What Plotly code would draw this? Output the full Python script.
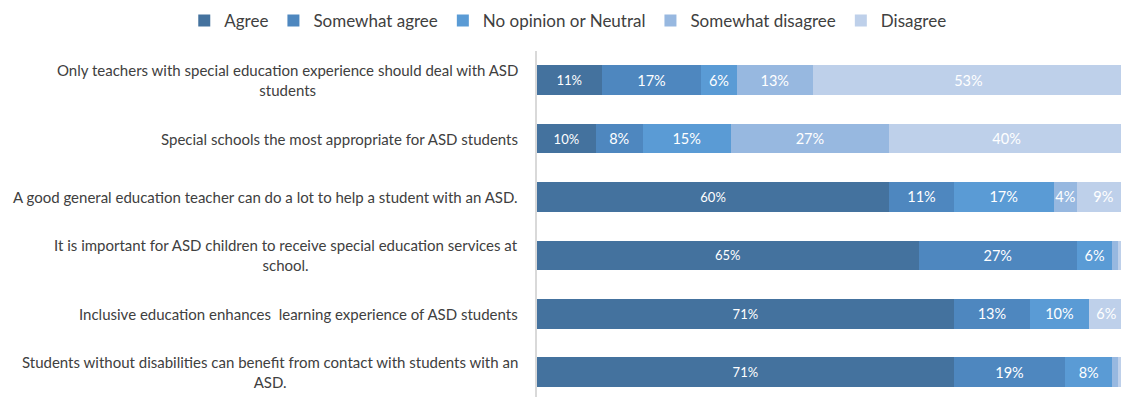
import plotly.graph_objects as go

categories = [
    "Only teachers with special education experience should deal with ASD<br>students",
    "Special schools the most appropriate for ASD students",
    "A good general education teacher can do a lot to help a student with an ASD.",
    "It is important for ASD children to receive special education services at<br>school.",
    "Inclusive education enhances  learning experience of ASD students",
    "Students without disabilities can benefit from contact with students with an<br>ASD.",
]
series_names = ["Agree", "Somewhat agree", "No opinion or Neutral", "Somewhat disagree", "Disagree"]
agree = [11, 10, 60, 65, 71, 71]
somewhat_agree = [17, 8, 11, 27, 13, 19]
neutral = [6, 15, 17, 6, 10, 8]
somewhat_disagree = [13, 27, 4, 1, 0, 1]
disagree = [53, 40, 9, 1, 6, 1]

colors = ["#44729e", "#4e87bf", "#5a9bd5", "#97b8e0", "#bed0ea"]
label_sizes = [13, 14.5, 14.5, 14.5, 14.5]
series = [agree, somewhat_agree, neutral, somewhat_disagree, disagree]

FONT = "Lato"
fig = go.Figure()
ids = list(range(len(categories)))
for name, vals, col, fs in zip(series_names, series, colors, label_sizes):
    fig.add_trace(go.Bar(
        name=name, y=ids, x=vals, orientation="h",
        marker=dict(color=col, line=dict(width=0)),
        text=[f"{v}%" if v >= 3 else "" for v in vals],
        textposition="inside", insidetextanchor="middle", textangle=0,
        constraintext="none",
        textfont=dict(color="white", size=fs, family=FONT),
        width=0.51,
    ))

for i, c in enumerate(categories):
    fig.add_annotation(
        text=c, xref="paper", yref="y", x=0, y=i, xanchor="right", yanchor="middle",
        xshift=-17, align="center", showarrow=False,
        font=dict(family=FONT, size=15, color="#404040"),
    )

fig.update_layout(
    barmode="stack",
    width=1121, height=397,
    margin=dict(l=537, r=0, t=51, b=0, autoexpand=False),
    paper_bgcolor="white", plot_bgcolor="white",
    font=dict(family=FONT, color="#404040"),
    showlegend=True,
    legend=dict(orientation="h", x=-0.604, xref="paper", xanchor="left", y=1.139, yref="paper",
                yanchor="top", font=dict(size=17, color="#404040", family=FONT),
                itemclick=False, traceorder="normal", tracegroupgap=0, itemwidth=30),
    xaxis=dict(range=[0, 99.5], showgrid=False, showticklabels=False, zeroline=False, showline=False, fixedrange=True),
    yaxis=dict(range=[5.425, -0.5], showgrid=False, showticklabels=False, zeroline=False,
               showline=True, linecolor="#d9d9d9", linewidth=1.5, ticks="", fixedrange=True),
    bargap=0.49,
)
fig.write_html("out.html")
